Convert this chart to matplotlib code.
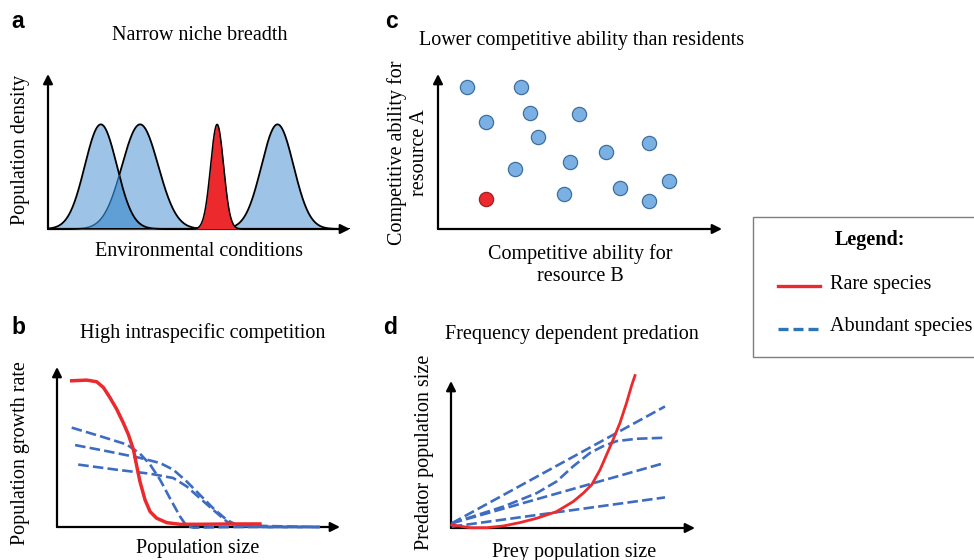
import numpy as np
import matplotlib
matplotlib.use("Agg")
import matplotlib.pyplot as plt
from matplotlib.lines import Line2D
from matplotlib.patches import Rectangle

# ---------------- data ----------------
# Panel a: niche curves (centre, width, peak height) on a 0-10 environmental axis
niche_centres = [1.75, 3.05, 7.6]
niche_widths = [0.53, 0.60, 0.53]
rare_centre = 5.6
rare_width = 0.215
peak_height = 6.75

# Panel b: growth rate vs population size
b_rare_x = [0.52, 1.05, 1.40, 1.64, 1.87, 2.11, 2.34, 2.52, 2.70, 2.82, 2.93, 3.11, 3.29, 3.52, 3.88, 4.35, 5.05, 6.23, 7.17]
b_rare_y = [9.14, 9.18, 9.08, 8.72, 8.09, 7.36, 6.52, 5.79, 4.84, 3.79, 2.85, 1.70, 0.96, 0.55, 0.27, 0.17, 0.17, 0.19, 0.19]
b_ab1_x = [0.52, 1.52, 2.46, 2.93, 3.29, 3.64, 3.99, 4.35, 4.58, 4.82, 6.23, 9.29]
b_ab1_y = [6.21, 5.68, 5.16, 4.59, 3.90, 2.96, 1.80, 0.65, 0.06, -0.04, 0.0, 0.0]
b_ab2_x = [0.64, 1.76, 2.93, 3.64, 4.11, 4.58, 5.05, 5.52, 6.00, 6.35, 7.41, 9.29]
b_ab2_y = [5.12, 4.74, 4.32, 4.00, 3.58, 2.85, 2.01, 1.17, 0.44, 0.13, 0.06, 0.0]
b_ab3_x = [0.75, 2.11, 3.29, 4.11, 4.58, 5.05, 5.52, 6.00, 6.35, 7.41, 9.29]
b_ab3_y = [3.90, 3.58, 3.33, 3.06, 2.54, 1.80, 1.07, 0.34, 0.06, 0.0, 0.0]

# Panel c: competitive abilities (resource B, resource A)
res_b = [1.02, 2.92, 1.69, 3.24, 4.96, 3.52, 7.43, 5.92, 4.65, 2.71, 8.13, 6.41, 4.44, 7.43]
res_a = [9.16, 9.16, 6.88, 7.47, 7.40, 5.91, 5.52, 4.94, 4.35, 3.90, 3.12, 2.66, 2.27, 1.82]
rare_b = [1.69]
rare_a = [1.95]

# Panel d: predator vs prey population size
d_rare_x = [0.03, 0.78, 1.46, 2.15, 2.83, 3.51, 4.33, 5.01, 5.42, 5.77, 6.11, 6.38, 6.65, 6.93, 7.20, 7.40, 7.54]
d_rare_y = [0.21, 0.02, 0.02, 0.14, 0.37, 0.66, 1.12, 1.80, 2.37, 2.95, 3.97, 5.00, 6.03, 7.17, 8.54, 9.68, 10.37]
d_ab1_x = [0.03, 8.77]
d_ab1_y = [0.32, 8.27]
d_ab2_x = [0.03, 2.15, 3.51, 4.33, 5.01, 5.70, 6.24, 6.79, 7.61, 8.77]
d_ab2_y = [0.32, 1.46, 2.37, 3.17, 4.20, 5.11, 5.57, 5.91, 6.07, 6.14]
d_ab3_x = [0.03, 8.77]
d_ab3_y = [0.32, 4.43]
d_ab4_x = [0.03, 8.77]
d_ab4_y = [0.09, 2.08]

legend_labels = ["Rare species", "Abundant species"]

# ---------------- style ----------------
RED = "#ec2a2d"
BLUE_DASH = "#3d6cc0"
LIGHT_BLUE = "#9dc3e6"
MID_BLUE = "#5f9fd6"
DOT_BLUE = "#7ab0e3"
SERIF = "Liberation Serif"
SANS = "Liberation Sans"
FS = 14.5
DASH = (4, 1.6)

W, H = 974, 560
fig = plt.figure(figsize=(W / 100, H / 100), dpi=100)


def px(x, y):
    return x / W, 1 - y / H


def panel(x0, y0, x1, y1):
    """axes whose origin is at pixel (x0, y0) and whose arrow tips are at x1 / y1"""
    ax = fig.add_axes([x0 / W, 1 - y0 / H, (x1 - x0) / W, (y0 - y1) / H])
    ax.set_xlim(0, 10)
    ax.set_ylim(0, 10)
    ax.axis("off")
    ap = dict(arrowstyle="-|>", lw=1.6, color="k", mutation_scale=14, shrinkA=0, shrinkB=0)
    ax.annotate("", xy=(10, 0), xytext=(0, 0), arrowprops=ap, annotation_clip=False)
    ax.annotate("", xy=(0, 10), xytext=(0, 0), arrowprops=ap, annotation_clip=False)
    return ax


def ftext(x, y, s, **kw):
    kw.setdefault("family", SERIF)
    kw.setdefault("fontsize", FS)
    kw.setdefault("ha", "center")
    kw.setdefault("va", "center")
    fig.text(*px(x, y), s, **kw)


def letter(x, y, s):
    fig.text(*px(x, y), s, family=SANS, fontweight="bold", fontsize=16.5,
             ha="center", va="center")


# ---------------- panel a ----------------
ax = panel(48, 229, 350, 74)
xs = np.linspace(0, 10, 800)
curves = [peak_height * np.exp(-0.5 * ((xs - c) / w) ** 2) for c, w in zip(niche_centres, niche_widths)]
for cv in curves:
    ax.fill_between(xs, 0, cv, color=LIGHT_BLUE, lw=0, zorder=2)
ax.fill_between(xs, 0, np.minimum(curves[0], curves[1]), color=MID_BLUE, lw=0, zorder=3)
ax.plot(xs, curves[0], color="k", lw=1.3, zorder=4)
c2 = curves[1].copy()
inside = c2 < curves[0]
ax.plot(xs, np.where(inside, np.nan, c2), color="k", lw=1.3, zorder=4)
ax.plot(xs, np.where(inside, c2, np.nan), color="#1f5d8e", lw=1.1, zorder=4)
ax.plot(xs, curves[2], color="k", lw=1.3, zorder=4)
rare = peak_height * np.exp(-0.5 * ((xs - rare_centre) / rare_width) ** 2)
ax.fill_between(xs, 0, rare, color=RED, lw=0, zorder=5)
ax.plot(xs, rare, color="k", lw=1.1, zorder=6)
letter(18, 22, "a")
ftext(200, 35, "Narrow niche breadth")
ftext(21, 150, "Population density", rotation=90)
ftext(199, 252, "Environmental conditions")

# ---------------- panel b ----------------
ax = panel(57, 527, 340, 367)
for bx, by in [(b_ab1_x, b_ab1_y), (b_ab2_x, b_ab2_y), (b_ab3_x, b_ab3_y)]:
    ax.plot(bx, by, color=BLUE_DASH, lw=1.9, dashes=DASH, clip_on=False, zorder=3,
            solid_joinstyle="round")
ax.plot(b_rare_x, b_rare_y, color=RED, lw=2.5, clip_on=False, zorder=4, solid_joinstyle="round")
letter(18, 327, "b")
ftext(203, 333, "High intraspecific competition")
ftext(21, 453, "Population growth rate", rotation=90)
ftext(198, 548, "Population size")

# ---------------- panel c ----------------
ax = panel(438, 229, 722, 74)
ax.scatter(res_b, res_a, s=105, color=DOT_BLUE, edgecolor="#3f6f9c", lw=0.9, zorder=3, clip_on=False)
ax.scatter(rare_b, rare_a, s=105, color=RED, edgecolor="#a02020", lw=0.9, zorder=3, clip_on=False)
letter(392, 22, "c")
ftext(582, 40, "Lower competitive ability than residents")
ftext(408, 153, "Competitive ability for\nresource A", rotation=90, linespacing=1.2)
ftext(580, 265, "Competitive ability for\nresource B", linespacing=1.2)

# ---------------- panel d ----------------
ax = panel(451, 528, 695, 381)
for dx, dy in [(d_ab1_x, d_ab1_y), (d_ab2_x, d_ab2_y), (d_ab3_x, d_ab3_y), (d_ab4_x, d_ab4_y)]:
    ax.plot(dx, dy, color=BLUE_DASH, lw=1.9, dashes=DASH, clip_on=False, zorder=3)
ax.plot(d_rare_x, d_rare_y, color=RED, lw=2.0, clip_on=False, zorder=4, solid_joinstyle="round")
letter(390, 327, "d")
ftext(572, 334, "Frequency dependent predation")
ftext(425, 452, "Predator population size", rotation=90)
ftext(574, 552, "Prey population size")

# ---------------- legend ----------------
x0, y0 = px(753, 357)
x1, y1 = px(985, 217)
fig.add_artist(Rectangle((x0, y0), x1 - x0, y1 - y0, transform=fig.transFigure,
                         facecolor="white", edgecolor="#7f7f7f", lw=1.0, zorder=1))
ftext(870, 240, "Legend:", fontweight="bold")
for (yy, lab, col, dsh) in [(286, legend_labels[0], RED, None),
                            (329, legend_labels[1], "#2e75b6", (3.0, 1.5))]:
    ln = Line2D([778 / W, 820 / W], [1 - yy / H, 1 - yy / H], transform=fig.transFigure,
                color=col, lw=2.4, zorder=2)
    if dsh is not None:
        ln.set_dashes(dsh)
    fig.add_artist(ln)
    ftext(830, yy - 2, lab, ha="left")

fig.savefig("out.png", dpi=100)
